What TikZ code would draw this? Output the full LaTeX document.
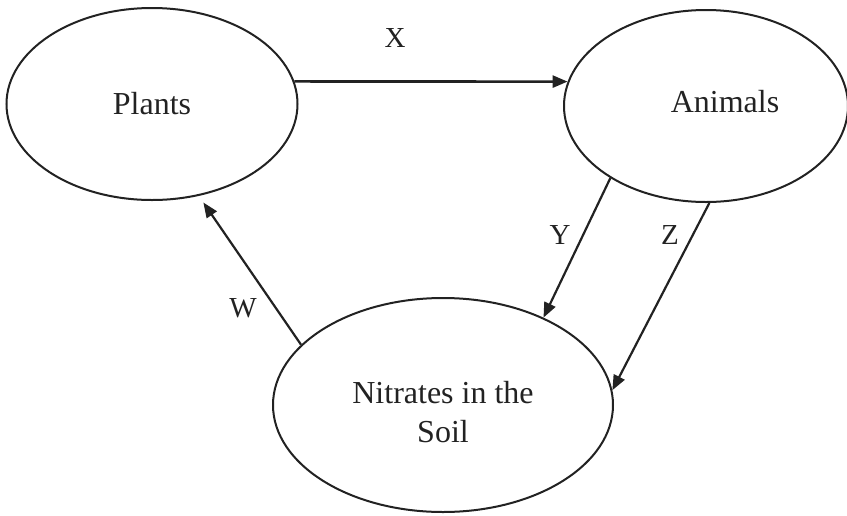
\documentclass[tikz,border=0pt]{standalone}
\usepackage{fontspec}
\setmainfont{Liberation Serif}
\usetikzlibrary{arrows.meta,shapes.geometric}
\definecolor{ink}{HTML}{222222}
\tikzset{pool/.style={ellipse,draw=ink,line width=2pt,inner sep=0pt,align=center,
    text=ink,font=\fontsize{32}{39}\selectfont},
  flow/.style={-{Triangle[length=15pt,width=12pt]},line width=2.2pt,draw=ink},
  tag/.style={text=ink,font=\fontsize{29}{34}\selectfont}}

\begin{document}
\begin{tikzpicture}[x=1pt,y=-1pt]
\useasboundingbox (0,0) rectangle (847,515);
\clip (0,0) rectangle (847,515);
% the three pools
\node[pool,minimum width=291pt,minimum height=192pt] (plants) at (152,104) {Plants};
\node[pool,minimum width=284pt,minimum height=192pt] (animals) at (706,106) {};
\node[pool,draw=none] (animalstxt) at (725,102) {Animals};
\node[pool,minimum width=340pt,minimum height=214pt] (soil) at (443,405) {};
\node[pool,draw=none] (soiltxt) at (443,412) {Nitrates in the\\Soil};
% transfers
\draw[flow,line width=2.6pt] (plants.9) -- (animals.170);
\draw[flow] (animals.217.7) -- (soil.41);
\draw[flow] (animals.272) -- (soil.5);
\draw[flow,shorten >=8pt] (soil.157.4) -- (plants.-63.4);
\node[tag] (xtag) at (395,38) {X};
\node[tag] (ytag) at (560,235) {Y};
\node[tag] (ztag) at (670,235) {Z};
\node[tag] (wtag) at (243,308) {W};
\end{tikzpicture}
\end{document}
